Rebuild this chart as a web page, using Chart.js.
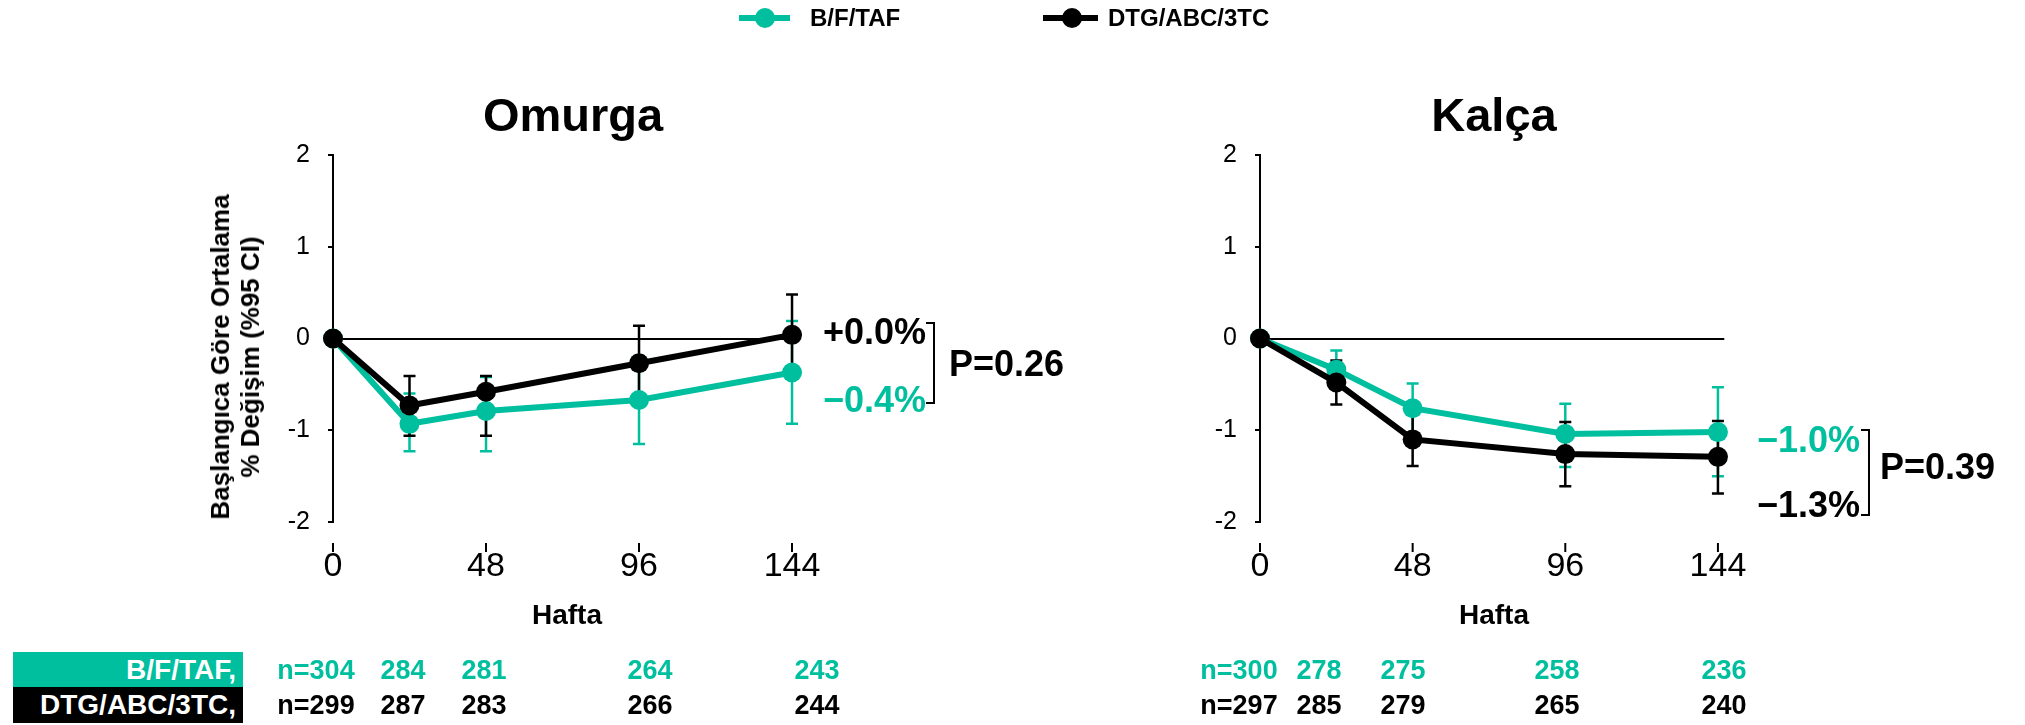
<!DOCTYPE html>
<html>
<head>
<meta charset="utf-8">
<script src="https://cdn.jsdelivr.net/npm/chart.js@4.4.0/dist/chart.umd.min.js"></script>
<style>
  html, body { margin: 0; padding: 0; background: #fff; }
  body { width: 2025px; height: 725px; position: relative; overflow: hidden;
         font-family: "Liberation Sans", Arial, Helvetica, sans-serif; }
  canvas { position: absolute; top: 0; }
  .t { position: absolute; line-height: 1; white-space: nowrap; font-weight: bold; }
  .box { position: absolute; }
</style>
</head>
<body>
<canvas id="spine" width="1000" height="725" style="left:0"></canvas>
<canvas id="hip" width="1025" height="725" style="left:1000px"></canvas>
<script>
// ---- data ----
const weeks = [0, 24, 48, 96, 144];
const xTicks = [0, 48, 96, 144];
const yTicks = [-2, -1, 0, 1, 2];
const seriesNames = ['B/F/TAF', 'DTG/ABC/3TC'];
const panelTitles = ['Omurga', 'Kalça'];
const xTitle = 'Hafta';
const yTitle = ['Başlangıca Göre Ortalama', '% Değişim (%95 CI)'];
const pValues = ['P=0.26', 'P=0.39'];

// Omurga (spine) – mean % change and 95% CI
const spineBFTAF     = [0, -0.93, -0.79, -0.67, -0.37];
const spineBFTAFLow  = [0, -1.23, -1.23, -1.15, -0.93];
const spineBFTAFHigh = [0, -0.60, -0.42, -0.19,  0.19];
const spineDTG       = [0, -0.73, -0.58, -0.27,  0.04];
const spineDTGLow    = [0, -1.06, -1.06, -0.68, -0.41];
const spineDTGHigh   = [0, -0.41, -0.41,  0.14,  0.48];

// Kalça (hip) – mean % change and 95% CI
const hipBFTAF     = [0, -0.34, -0.76, -1.04, -1.02];
const hipBFTAFLow  = [0, -0.55, -1.03, -1.40, -1.50];
const hipBFTAFHigh = [0, -0.13, -0.49, -0.71, -0.53];
const hipDTG       = [0, -0.48, -1.10, -1.26, -1.29];
const hipDTGLow    = [0, -0.72, -1.39, -1.61, -1.69];
const hipDTGHigh   = [0, -0.24, -0.81, -0.91, -0.90];

// patients at each visit
const spineN_BFTAF = [304, 284, 281, 264, 243];
const spineN_DTG   = [299, 287, 283, 266, 244];
const hipN_BFTAF   = [300, 278, 275, 258, 236];
const hipN_DTG     = [297, 285, 279, 265, 240];

// ---- styles ----
const TEAL = '#00BF9F';
const BLACK = '#000000';
const FONT = '"Liberation Sans", Arial, Helvetica, sans-serif';

// error bars drawn under lines and markers
const errorBars = {
  id: 'errorBars',
  beforeDatasetsDraw(chart) {
    const { ctx, scales: { x, y } } = chart;
    const order = chart.data.datasets.slice();
    order.forEach((ds) => {
      ctx.save();
      ctx.strokeStyle = ds.borderColor;
      ctx.lineWidth = 2.5;
      ds.ciLow.forEach((lo, i) => {
        const hi = ds.ciHigh[i];
        if (lo === hi) return;
        const px = x.getPixelForValue(weeks[i]);
        const yl = y.getPixelForValue(lo);
        const yh = y.getPixelForValue(hi);
        ctx.beginPath();
        ctx.moveTo(px, yl); ctx.lineTo(px, yh);
        ctx.moveTo(px - 6, yl); ctx.lineTo(px + 6, yl);
        ctx.moveTo(px - 6, yh); ctx.lineTo(px + 6, yh);
        ctx.stroke();
      });
      ctx.restore();
    });
  }
};

// short detached tick marks above the week labels
const weekMarks = {
  id: 'weekMarks',
  afterDraw(chart) {
    const { ctx, chartArea, scales: { x } } = chart;
    ctx.save();
    ctx.strokeStyle = BLACK;
    ctx.lineWidth = 2;
    xTicks.forEach((v) => {
      const px = x.getPixelForValue(v);
      ctx.beginPath();
      ctx.moveTo(px, chartArea.bottom + 21);
      ctx.lineTo(px, chartArea.bottom + 30);
      ctx.stroke();
    });
    ctx.restore();
  }
};

function series(label, vals, lo, hi, color, order) {
  return {
    label,
    data: weeks.map((w, i) => ({ x: w, y: vals[i] })),
    ciLow: lo, ciHigh: hi,
    borderColor: color, backgroundColor: color,
    pointBackgroundColor: color, pointBorderColor: color,
    borderWidth: 6, pointRadius: 10, pointHoverRadius: 10, pointBorderWidth: 0,
    tension: 0, clip: false, order
  };
}

function makeChart(id, datasets, pad) {
  return new Chart(document.getElementById(id), {
    type: 'line',
    data: { datasets },
    plugins: [errorBars, weekMarks],
    options: {
      responsive: false,
      animation: false,
      events: [],
      layout: { padding: pad },
      plugins: { legend: { display: false }, tooltip: { enabled: false } },
      scales: {
        x: {
          type: 'linear', min: 0, max: 146,
          afterBuildTicks: (s) => { s.ticks = xTicks.map((v) => ({ value: v })); },
          afterFit: (s) => { s.height = 60; },
          border: { display: false },
          grid: { display: false, drawTicks: false },
          ticks: { color: BLACK, padding: 24, maxRotation: 0, autoSkip: false,
                   font: { family: FONT, size: 34 }, callback: (v) => String(v) }
        },
        y: {
          type: 'linear', min: -2, max: 2,
          afterBuildTicks: (s) => { s.ticks = yTicks.map((v) => ({ value: v })); },
          afterFit: (s) => { s.width = 80; },
          border: { display: true, color: BLACK, width: 2 },
          grid: {
            color: (c) => (c.tick && c.tick.value === 0 ? BLACK : 'rgba(0,0,0,0)'),
            lineWidth: 2, tickColor: BLACK, tickLength: 5, drawTicks: true
          },
          ticks: { color: BLACK, padding: 18, autoSkip: false,
                   font: { family: FONT, size: 25 }, callback: (v) => String(v) }
        }
      }
    }
  });
}

makeChart('spine', [
  series(seriesNames[0], spineBFTAF, spineBFTAFLow, spineBFTAFHigh, TEAL, 2),
  series(seriesNames[1], spineDTG, spineDTGLow, spineDTGHigh, BLACK, 1)
], { left: 253, right: 201.6, top: 155, bottom: 143 });

makeChart('hip', [
  series(seriesNames[0], hipBFTAF, hipBFTAFLow, hipBFTAFHigh, TEAL, 2),
  series(seriesNames[1], hipDTG, hipDTGLow, hipDTGHigh, BLACK, 1)
], { left: 180, right: 300.7, top: 155, bottom: 143 });

// ---- text and decorations ----
function txt(str, x, y, size, color, align) {
  const d = document.createElement('div');
  d.className = 't';
  d.textContent = str;
  d.style.left = x + 'px';
  d.style.top = y + 'px';
  d.style.fontSize = size + 'px';
  d.style.color = color;
  const tx = align === 'right' ? '-100%' : align === 'left' ? '0' : '-50%';
  d.style.transform = 'translate(' + tx + ',-50%)';
  document.body.appendChild(d);
  return d;
}
function box(x, y, w, h, css) {
  const d = document.createElement('div');
  d.className = 'box';
  Object.assign(d.style, { left: x + 'px', top: y + 'px', width: w + 'px', height: h + 'px' }, css);
  document.body.appendChild(d);
  return d;
}
function pct(v) {
  const s = Math.abs(v).toFixed(1);
  return (v >= 0 ? '+' : '\u2212') + s + '%';
}

// legend
box(739, 15, 51, 6, { background: TEAL });
box(755, 8, 20, 20, { background: TEAL, borderRadius: '50%' });
txt(seriesNames[0], 810, 18, 24, BLACK, 'left');
box(1043, 15, 55, 6, { background: BLACK });
box(1062, 8, 20, 20, { background: BLACK, borderRadius: '50%' });
txt(seriesNames[1], 1108, 18, 24, BLACK, 'left');

// panel titles and x titles
txt(panelTitles[0], 573, 114, 47, BLACK);
txt(panelTitles[1], 1494, 114, 47, BLACK);
txt(xTitle, 567, 615, 28, BLACK);
txt(xTitle, 1494, 615, 28, BLACK);

// y title
const yt = document.createElement('div');
yt.className = 't';
yt.innerHTML = yTitle.join('<br>');
Object.assign(yt.style, {
  left: '235px', top: '357px', fontSize: '26px', lineHeight: '30px', textAlign: 'center',
  transform: 'translate(-50%,-50%) rotate(-90deg)', color: BLACK
});
document.body.appendChild(yt);

// end-of-study values and P values
const last = weeks.length - 1;
txt(pct(spineDTG[last]), 926, 332, 36, BLACK, 'right');
txt(pct(spineBFTAF[last]), 926, 400, 36, TEAL, 'right');
box(926, 322, 7, 78, { borderTop: '2px solid #000', borderRight: '2px solid #000', borderBottom: '2px solid #000' });
txt(pValues[0], 949, 364, 36, BLACK, 'left');

txt(pct(hipBFTAF[last]), 1860, 440, 36, TEAL, 'right');
txt(pct(hipDTG[last]), 1860, 505, 36, BLACK, 'right');
box(1861, 429, 7, 83, { borderTop: '2px solid #000', borderRight: '2px solid #000', borderBottom: '2px solid #000' });
txt(pValues[1], 1880, 467, 36, BLACK, 'left');

// patients table
box(13, 652, 230, 35, { background: TEAL });
box(13, 687, 230, 36, { background: BLACK });
txt(seriesNames[0] + ',', 236, 670, 28, '#fff', 'right');
txt(seriesNames[1] + ',', 236, 705, 28, '#fff', 'right');
const spineCols = [316, 403, 484, 650, 817];
const hipCols = [1239, 1319, 1403, 1557, 1724];
function nRow(vals, cols, y, color) {
  vals.forEach((v, i) => txt((i === 0 ? 'n=' : '') + v, cols[i], y, 27, color));
}
nRow(spineN_BFTAF, spineCols, 670, TEAL);
nRow(spineN_DTG, spineCols, 705, BLACK);
nRow(hipN_BFTAF, hipCols, 670, TEAL);
nRow(hipN_DTG, hipCols, 705, BLACK);
</script>
</body>
</html>
